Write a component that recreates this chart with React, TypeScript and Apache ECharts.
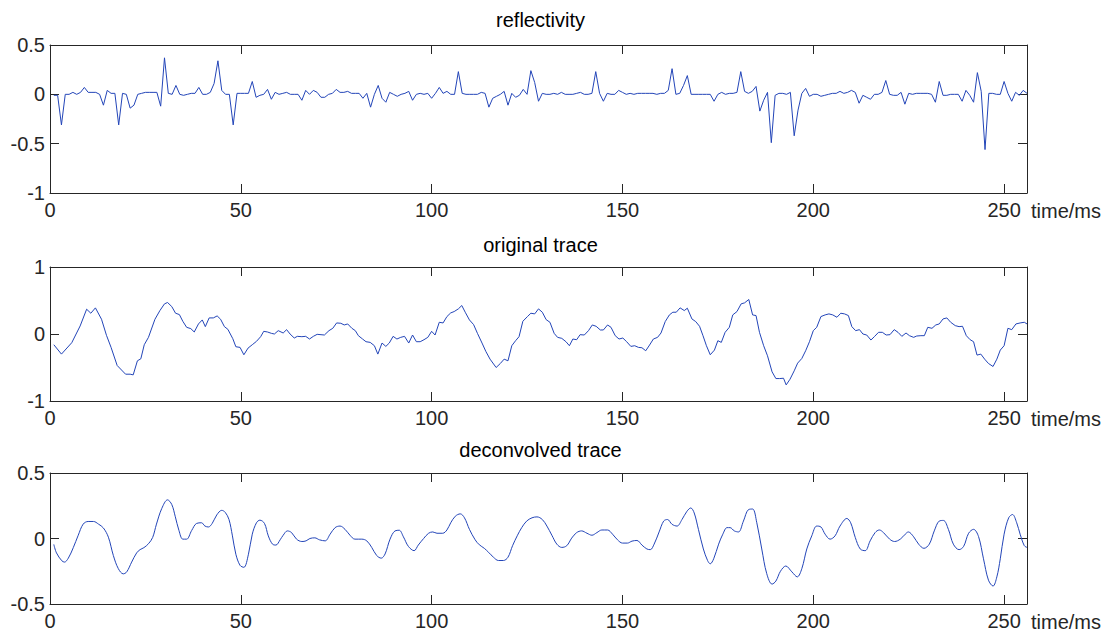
import React, { useEffect, useRef } from "react";
import * as echarts from "echarts";

// ---------- data ----------
// reflectivity, one value per sample t = 1..256
const reflectivity = [
  -0.01, -0.01, -0.31, 0, 0, 0.02, 0, 0.02, 0.07, 0.02,
  0.02, 0.02, 0, -0.11, 0.04, 0.01, 0.01, -0.31, 0.01, 0,
  -0.14, -0.11, 0, 0.01, 0.02, 0.02, 0.02, 0.02, -0.12, 0.37,
  0.01, 0, 0.09, 0, -0.01, 0, 0.01, 0.01, 0.07, 0,
  0, 0.02, 0.11, 0.34, 0.04, 0, 0, -0.31, 0.01, 0.01,
  0.01, 0.01, 0.13, -0.03, -0.01, 0, 0.05, -0.05, 0.02, 0,
  0.01, 0.02, 0, 0, 0, -0.06, 0.04, 0, 0.04, 0.02,
  -0.03, -0.03, 0, 0.01, 0.05, 0.02, 0.02, 0.03, 0.01, 0.01,
  0.01, -0.04, 0.01, -0.13, 0, 0.09, -0.04, -0.08, 0.02, 0,
  -0.02, 0, 0.01, 0.03, -0.06, 0, 0.01, 0, 0.01, -0.04,
  0.01, 0.07, 0.01, 0.03, 0, 0, 0.23, 0.01, 0, 0,
  0, 0, 0.02, 0.01, -0.13, -0.04, -0.02, 0, 0.03, -0.11,
  0.01, -0.03, -0.01, 0.05, 0, 0.24, 0.12, -0.07, 0.01, 0,
  0, 0.01, 0, 0.02, 0, 0, 0, 0.01, 0.02, 0,
  0, 0.01, 0.23, 0.01, -0.07, 0.01, 0, 0, 0.04, 0.02,
  0, 0.01, 0, 0.01, 0.01, 0.01, 0.01, 0.01, 0, 0.01,
  0.01, 0.04, 0.26, 0, 0.01, 0.09, 0.19, 0, 0, 0,
  0, 0, 0, -0.07, 0, 0.02, 0, 0.01, 0.01, 0.02,
  0.23, 0.03, 0.01, 0.03, 0.08, -0.17, -0.06, 0.02, -0.49, -0.01,
  0.01, 0.01, 0, 0.02, -0.42, -0.16, 0.01, 0.06, -0.02, 0,
  0, -0.02, -0.01, 0, 0.01, 0.01, 0.03, 0.01, 0.02, 0.04,
  0.02, -0.09, -0.01, -0.03, -0.05, 0, 0, 0.02, 0.14, 0,
  -0.01, -0.01, 0.02, -0.1, 0.01, 0, 0.01, 0.01, 0.01, 0.01,
  0, -0.08, 0.13, -0.01, -0.01, 0, 0, 0, -0.07, 0.04,
  -0.01, -0.08, 0.22, 0.03, -0.56, 0.01, 0.01, 0, 0, 0.13,
  0.01, -0.07, 0.02, -0.01, 0.04, 0.01,
];

// original trace (times, values)
const origT = [
  1, 3, 5.7, 7.9, 9.6, 10.7, 11.9, 13.5, 14.8, 16, 17.6, 19.8, 21, 21.8, 22.9, 23.8, 24.7, 25.8, 27.5, 28.8,
  30, 30.8, 31.9, 32.9, 33.9, 34.8, 35.8, 36.9, 37.8, 38.9, 39.9, 40.7, 41.7, 42.8, 43.8, 44.7, 45.7, 46.6, 47.9, 48.7,
  49.8, 50.8, 51.9, 53, 54.1, 55.2, 56, 57, 58, 58.8, 59.8, 61.1, 62, 62.9, 64, 64.8, 66, 67, 68, 69,
  70, 71.9, 73.1, 74.1, 75.1, 76.2, 77.1, 78, 79.1, 80, 80.8, 81.9, 82.8, 83.9, 85, 85.9, 87, 88, 88.9, 89.9,
  90.9, 91.9, 92.9, 94, 95, 96, 97, 98, 99, 100, 100.9, 102, 103, 104, 105, 105.9, 107, 107.9, 108.8, 109.9,
  111, 112, 113.2, 114.2, 115.3, 116.9, 118, 119, 120, 121, 122, 122.9, 123.9, 125.1, 126, 127, 128, 129, 130, 131,
  132.1, 133, 134.1, 135.2, 136.1, 137, 138, 138.9, 140, 141.1, 142.1, 143.1, 144.2, 145, 146.1, 147, 148.1, 149.1, 150.1, 151.1,
  152.2, 153.2, 154.2, 155.1, 156.1, 157.1, 158.1, 159.2, 160.1, 161.2, 162.3, 163.2, 164.1, 165.1, 166.2, 167, 168.2, 169.2, 170.2, 171.1,
  172, 173, 174.1, 175, 175.9, 176.9, 178, 178.9, 180, 181.1, 182, 183.1, 184.1, 185, 185.9, 187, 188, 189.2, 190.2, 191.2,
  192.2, 192.9, 193.9, 195, 195.9, 197, 198, 199, 200, 200.9, 202, 203.1, 204.1, 205.1, 206.2, 207.2, 208.2, 209.2, 210.1, 211.1,
  212.1, 213, 214, 215.1, 216, 217.1, 218.1, 219.1, 220.1, 221.2, 222.2, 223.2, 224.3, 225.2, 226.3, 227.1, 228.2, 229.1, 230, 231.1,
  232.1, 233, 234, 235, 236, 237.2, 238.2, 239.1, 240.1, 241.1, 242, 242.9, 243.9, 244.9, 245.9, 247.1, 248.1, 249, 250, 251,
  252, 253.1, 254.2, 255.3, 256,
];
const origV = [
  -0.16, -0.3, -0.13, 0.12, 0.37, 0.31, 0.39, 0.22, -0.02, -0.2, -0.47, -0.6, -0.6, -0.61, -0.4, -0.37, -0.16, -0.05, 0.22, 0.35,
  0.45, 0.47, 0.41, 0.31, 0.29, 0.19, 0.1, 0.08, 0.03, 0.15, 0.21, 0.11, 0.24, 0.24, 0.27, 0.22, 0.11, 0.07, -0.07, -0.19,
  -0.2, -0.31, -0.21, -0.16, -0.11, -0.04, 0.04, 0.03, 0.01, 0, 0.05, 0.015, 0.065, 0, -0.06, -0.035, -0.04, -0.035, -0.075, -0.035,
  -0.005, -0.015, 0.05, 0.085, 0.165, 0.16, 0.135, 0.15, 0.085, 0.05, -0.025, -0.075, -0.115, -0.125, -0.175, -0.3, -0.135, -0.185, -0.135, -0.035,
  -0.075, -0.05, -0.035, -0.135, -0.015, -0.115, -0.115, -0.085, -0.05, 0.04, -0.015, 0.175, 0.165, 0.26, 0.315, 0.335, 0.375, 0.425, 0.325, 0.21,
  0.14, 0.01, -0.135, -0.26, -0.375, -0.5, -0.44, -0.375, -0.4, -0.175, -0.1, -0.04, 0.19, 0.26, 0.31, 0.3, 0.375, 0.325, 0.215, 0.175,
  0.01, -0.05, -0.065, -0.115, -0.175, -0.075, -0.085, -0.01, -0.015, 0.05, 0.135, 0.115, 0.06, 0.06, 0.135, 0.1, -0.025, -0.075, -0.06, -0.115,
  -0.185, -0.175, -0.2, -0.205, -0.25, -0.165, -0.075, -0.05, 0.015, 0.185, 0.285, 0.325, 0.325, 0.39, 0.35, 0.385, 0.225, 0.185, 0.115, -0.025,
  -0.175, -0.31, -0.24, -0.1, -0.125, 0.025, 0.1, 0.285, 0.335, 0.45, 0.465, 0.515, 0.285, 0.275, 0.025, -0.175, -0.325, -0.565, -0.665, -0.665,
  -0.66, -0.76, -0.675, -0.55, -0.435, -0.365, -0.25, -0.115, 0.05, 0.1, 0.26, 0.285, 0.3, 0.285, 0.25, 0.31, 0.3, 0.275, 0.11, 0.05,
  0.065, 0, -0.015, -0.09, -0.04, 0.025, 0.025, -0.015, -0.01, 0.065, 0.025, -0.035, 0.015, -0.025, -0.05, -0.03, -0.025, -0.025, 0.1, 0.085,
  0.135, 0.15, 0.225, 0.24, 0.175, 0.125, 0.11, 0.115, -0.025, -0.085, -0.115, -0.315, -0.3, -0.375, -0.44, -0.485, -0.375, -0.24, -0.175, 0.085,
  0.065, 0.15, 0.165, 0.175, 0.15,
];

// deconvolved trace
const deconT = [
  1, 1.7, 3.1, 3.8, 4.8, 6.1, 7.4, 8.7, 10, 11.4, 12.7, 14, 15.3, 16.6, 17.9, 19.2, 20.1, 21.4, 22.7, 23.6,
  24.6, 25.8, 26.9, 27.9, 29.3, 30.8, 31.9, 32.8, 33.8, 34.8, 35.8, 37.1, 38.4, 39.7, 40.6, 41.5, 42.5, 43.7, 45, 45.9,
  46.9, 47.8, 48.7, 49.8, 50.8, 52, 53, 54.1, 55, 56.2, 57.2, 58.3, 59.2, 60.3, 61.1, 62.2, 63.3, 64.6, 66, 67.1,
  68.1, 69.4, 70.6, 72.1, 73.4, 74.7, 76, 77.3, 78.6, 79.9, 81.7, 83, 84.3, 85.6, 86.8, 87.8, 89.1, 90.4, 91.5, 92.6,
  93.9, 95.4, 96.5, 97.9, 99.2, 100.3, 101.4, 102.9, 104, 105, 106.2, 107.5, 108.6, 109.9, 111.4, 112.5, 113.8, 114.9, 116.2, 117.5,
  118.8, 120, 121.2, 122.5, 123.6, 124.9, 126.3, 127.6, 129, 130.2, 131.5, 132.8, 134.1, 135.4, 136.7, 138, 139.3, 140.7, 142, 143.3,
  144.6, 146.1, 147.4, 148.7, 150, 151.3, 152.5, 153.8, 155.1, 156.4, 157.3, 158.3, 159.6, 160.8, 161.8, 163, 164.3, 165.6, 166.9, 167.9,
  168.8, 169.9, 171.2, 172.3, 173, 173.9, 175.2, 176.3, 177.4, 178.2, 179.3, 180.4, 181.7, 183, 184.1, 185.2, 186.5, 187.8, 189.2, 190.2,
  191.4, 192.8, 194.4, 195.8, 197, 198.3, 199.6, 200.9, 202, 203.1, 204.4, 205.7, 207, 208.8, 209.8, 211, 212.3, 213.6, 214.9, 216.2,
  217.3, 218.4, 220, 221.3, 222.8, 224.1, 224.9, 226.3, 227.6, 229, 230.4, 231.7, 233, 234.1, 235.4, 236.7, 238.2, 239.4, 240.7, 242,
  243.3, 244.6, 245.9, 247.1, 248.1, 249, 250, 251.2, 252.2, 253.3, 254.2, 255.3, 256,
];
const deconV = [
  -0.045, -0.11, -0.17, -0.18, -0.15, -0.07, 0.025, 0.11, 0.13, 0.13, 0.11, 0.08, 0.01, -0.13, -0.23, -0.27, -0.255, -0.18, -0.11, -0.085,
  -0.07, -0.04, 0.008, 0.11, 0.23, 0.295, 0.26, 0.17, 0.06, -0.005, -0.005, 0.06, 0.115, 0.12, 0.095, 0.088, 0.115, 0.18, 0.215, 0.2,
  0.145, 0.02, -0.12, -0.205, -0.22, -0.12, 0.033, 0.12, 0.14, 0.115, 0.02, -0.043, -0.05, -0.01, 0.025, 0.058, 0.045, -0.005, -0.023, -0.018,
  0, 0.005, -0.01, -0.018, 0.033, 0.083, 0.095, 0.07, 0.025, -0.005, -0.005, -0.018, -0.068, -0.13, -0.15, -0.118, -0.005, 0.058, 0.063, 0.013,
  -0.06, -0.093, -0.05, 0, 0.04, 0.05, 0.04, 0.04, 0.065, 0.12, 0.17, 0.188, 0.158, 0.07, -0.01, -0.048, -0.075, -0.105, -0.143, -0.168,
  -0.168, -0.143, -0.055, 0.025, 0.083, 0.133, 0.158, 0.165, 0.145, 0.095, 0.025, -0.043, -0.068, -0.055, 0.003, 0.045, 0.058, 0.04, 0.025, 0.045,
  0.065, 0.065, 0.033, -0.01, -0.035, -0.035, -0.02, -0.015, -0.05, -0.08, -0.085, -0.043, 0.05, 0.133, 0.145, 0.108, 0.095, 0.145, 0.208, 0.233,
  0.195, 0.07, -0.08, -0.168, -0.193, -0.155, -0.043, 0.033, 0.083, 0.083, 0.058, 0.05, 0.133, 0.22, 0.225, 0.12, -0.08, -0.268, -0.348, -0.325,
  -0.25, -0.21, -0.255, -0.293, -0.23, -0.08, 0.02, 0.095, 0.088, 0.033, -0.005, 0.02, 0.095, 0.153, 0.12, 0.008, -0.08, -0.093, -0.018, 0.045,
  0.065, 0.045, -0.005, -0.023, -0.005, 0.033, 0.05, 0.013, -0.043, -0.075, -0.043, 0.058, 0.133, 0.138, 0.07, -0.043, -0.085, -0.06, 0.04, 0.07,
  0.015, -0.155, -0.318, -0.363, -0.293, -0.155, 0.033, 0.158, 0.183, 0.12, 0.033, -0.055, -0.068,
];

const panelTitles = ["reflectivity", "original trace", "deconvolved trace"];
const xExtent = [0, 256];
const xTickStep = 50;
// [min, max, interval] for each panel's y axis
const yAxes = [
  [-1, 0.5, 0.5],
  [-1, 1, 1],
  [-0.5, 0.5, 0.5],
];
const xAxisName = "time/ms";

// ---------- layout / style ----------
const FONT = "'Liberation Sans', Arial, Helvetica, sans-serif";
const AXIS_COLOR = "#262626";
const LINE_COLOR = "#2345b8";
const PLOT_LEFT = 50;
const PLOT_WIDTH = 977;
const PANEL_TOPS = [45, 267, 473];
const PANEL_HEIGHTS = [148, 134, 134];
const TITLE_OFFSETS = [40, 37, 38];

export default function App() {
  const ref = useRef<HTMLDivElement>(null);

  useEffect(() => {
    document.body.style.margin = "0";
    if (!ref.current) return;
    const chart = echarts.init(ref.current, null, { renderer: "svg" });

    const grids: any[] = [];
    const xAxis: any[] = [];
    const yAxis: any[] = [];
    const titles: any[] = [];
    const series: any[] = [];

    const tickStyle = { inside: true, length: 9, lineStyle: { color: AXIS_COLOR, width: 1 } };
    const lineStyle = { show: true, lineStyle: { color: AXIS_COLOR, width: 1 } };

    for (let p = 0; p < 3; p++) {
      grids.push({
        left: PLOT_LEFT,
        top: PANEL_TOPS[p],
        width: PLOT_WIDTH,
        height: PANEL_HEIGHTS[p],
        containLabel: false,
      });
      // bottom x axis
      xAxis.push({
        type: "value",
        gridIndex: p,
        position: "bottom",
        min: xExtent[0],
        max: xExtent[1],
        interval: xTickStep,
        axisLine: { ...lineStyle, onZero: false },
        axisTick: tickStyle,
        splitLine: { show: false },
        axisLabel: {
          show: true,
          margin: 7,
          fontSize: 20,
          fontFamily: FONT,
          color: AXIS_COLOR,
          showMaxLabel: false,
          formatter: (v: number) => (v % xTickStep === 0 ? String(v) : ""),
        },
        name: xAxisName,
        nameLocation: "end",
        nameGap: 4,
        nameTextStyle: {
          fontSize: 20,
          fontFamily: FONT,
          color: AXIS_COLOR,
          verticalAlign: "top",
          align: "left",
          padding: [8, 0, 0, 0],
        },
      });
      // top x axis (box)
      xAxis.push({
        type: "value",
        gridIndex: p,
        position: "top",
        min: xExtent[0],
        max: xExtent[1],
        interval: xTickStep,
        axisLine: { ...lineStyle, onZero: false },
        axisTick: tickStyle,
        splitLine: { show: false },
        axisLabel: { show: false },
      });
      const [ymin, ymax, yint] = yAxes[p];
      yAxis.push({
        type: "value",
        gridIndex: p,
        position: "left",
        min: ymin,
        max: ymax,
        interval: yint,
        axisLine: { ...lineStyle, onZero: false },
        axisTick: tickStyle,
        splitLine: { show: false },
        axisLabel: {
          margin: 5,
          fontSize: 20,
          fontFamily: FONT,
          color: AXIS_COLOR,
          formatter: (v: number) => String(v),
        },
      });
      yAxis.push({
        type: "value",
        gridIndex: p,
        position: "right",
        min: ymin,
        max: ymax,
        interval: yint,
        axisLine: { ...lineStyle, onZero: false },
        axisTick: tickStyle,
        splitLine: { show: false },
        axisLabel: { show: false },
      });
      titles.push({
        text: panelTitles[p],
        left: PLOT_LEFT + PLOT_WIDTH / 2 - 3,
        textAlign: "center",
        top: PANEL_TOPS[p] - TITLE_OFFSETS[p],
        textStyle: {
          fontSize: 20,
          fontWeight: "normal",
          fontFamily: FONT,
          color: "#000",
        },
      });
    }

    const reflData = reflectivity.map((v, i) => [i + 1, v]);
    const origData = origT.map((t, i) => [t, origV[i]]);
    const deconData = deconT.map((t, i) => [t, deconV[i]]);
    const datasets = [reflData, origData, deconData];

    datasets.forEach((d, p) => {
      series.push({
        type: "line",
        xAxisIndex: p * 2,
        yAxisIndex: p * 2,
        data: d,
        showSymbol: false,
        symbol: "none",
        smooth: p === 2 ? 0.35 : false,
        lineStyle: { color: LINE_COLOR, width: 1 },
        itemStyle: { color: LINE_COLOR },
        clip: true,
      });
    });

    chart.setOption({
      animation: false,
      backgroundColor: "#ffffff",
      textStyle: { fontFamily: FONT },
      title: titles,
      grid: grids,
      xAxis,
      yAxis,
      series,
    });

    return () => chart.dispose();
  }, []);

  return <div ref={ref} style={{ width: 1107, height: 632 }} />;
}
